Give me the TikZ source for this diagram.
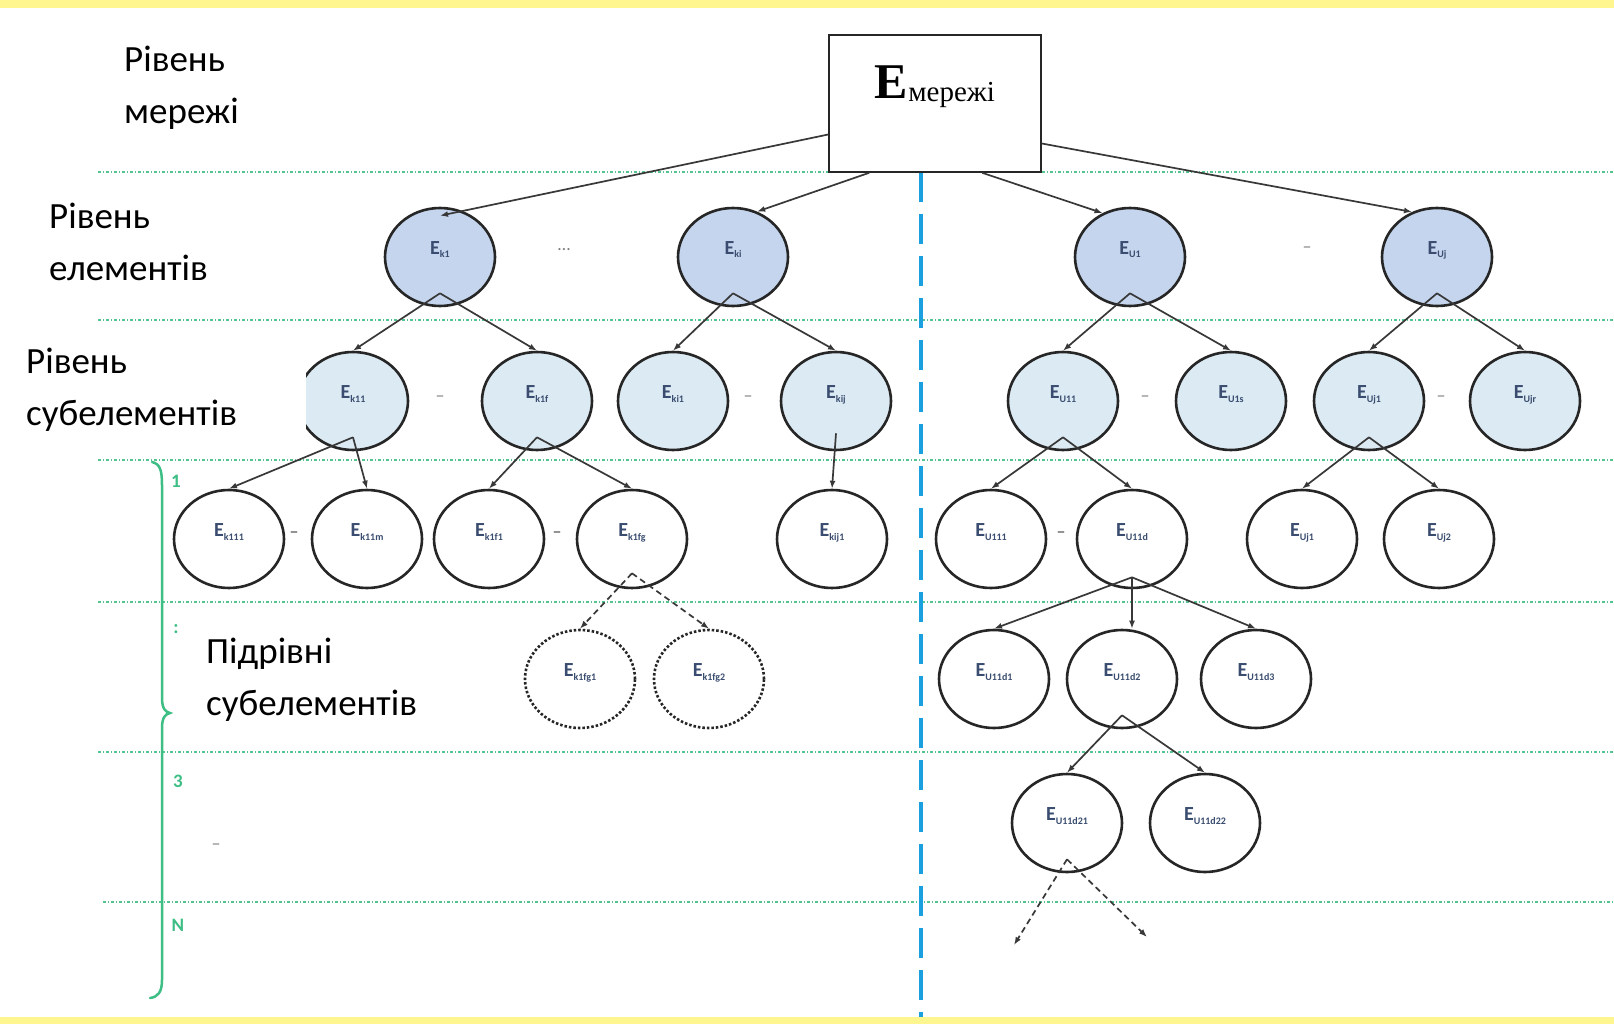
\documentclass[tikz,border=0pt]{standalone}
\usepackage{fontspec}
\setmainfont{Carlito}
\newfontfamily\tnr{Liberation Serif}
\usetikzlibrary{shapes.geometric,arrows.meta,calc}
\definecolor{elemblue}{HTML}{C5D5EE}
\definecolor{subblue}{HTML}{DCEAF3}
\definecolor{lvlgreen}{HTML}{55C48F}
\definecolor{bracegreen}{HTML}{3DBE85}
\definecolor{vblue}{HTML}{1AA0DE}
\definecolor{bandyellow}{HTML}{FFF68F}
\definecolor{labtext}{HTML}{3A4D70}
\newcommand\Elab[1]{{\fontsize{20}{20}\selectfont\bfseries E}\raisebox{-3.5pt}{\fontsize{10}{10}\selectfont\bfseries #1}}
\begin{document}
\begin{tikzpicture}[x=1pt,y=-1pt,
  elem/.style={ellipse, draw=black!85, line width=2.6pt, fill=elemblue,
    minimum width=110pt, minimum height=98pt, inner sep=0pt,
    text height=15pt, text depth=20pt, text=labtext},
  sub/.style={elem, fill=subblue},
  leaf/.style={elem, fill=white},
  dleaf/.style={leaf, dash pattern=on 2.5pt off 2pt},
  conn/.style={draw=black!78, line width=1.7pt, -{Latex[length=8pt,width=6pt]}},
  dconn/.style={conn, dash pattern=on 6pt off 4pt},
  lvl/.style={draw=lvlgreen, line width=2pt, dash pattern=on 3pt off 2pt on 1pt off 2pt},
  lab/.style={font=\fontsize{37}{52}\selectfont, anchor=west, inner sep=0pt, align=left},
  num/.style={font=\fontsize{19}{19}\selectfont\bfseries, text=bracegreen, inner sep=0pt},
  dotsym/.style={font=\fontsize{18}{18}\selectfont, text=black!50, inner sep=0pt}
]
\useasboundingbox (0,0) rectangle (1614,1024);
\fill[white] (0,0) rectangle (1614,1024);
\fill[bandyellow] (0,0) rectangle (1614,8);
\fill[bandyellow] (0,1017) rectangle (1614,1024);

% level separators
\foreach \yy in {172,320,460,602,752} {\draw[lvl] (98,\yy) -- (1614,\yy);}
\draw[lvl] (103,902) -- (1614,902);
% vertical divider
\draw[vblue, line width=4pt, dash pattern=on 30pt off 12pt] (921,172) -- (921,1017);

% top node
\node[draw=black!85, line width=1.6pt, fill=white, minimum width=212pt, minimum height=137pt,
  inner sep=0pt, text height=32pt, text depth=42pt] (top) at (935,103.5)
  {\tnr{\fontsize{50}{50}\selectfont\bfseries E}\raisebox{-3pt}{\fontsize{29}{29}\selectfont мережі}};

% level of elements
\node[elem] (ek1) at (440,257) {\Elab{k1}};
\node[elem] (eki) at (733,257) {\Elab{ki}};
\node[elem] (eu1) at (1130,257) {\Elab{U1}};
\node[elem] (euj) at (1437,257) {\Elab{Uj}};
\node[dotsym] (g1) at (564,250) {…};
\node[dotsym] (g2) at (1307,250) {–};

% level of sub-elements
\node[sub] (ek11) at (353,401) {\Elab{k11}};
\node[sub] (ek1f) at (537,401) {\Elab{k1f}};
\node[sub] (eki1) at (673,401) {\Elab{ki1}};
\node[sub] (ekij) at (836,401) {\Elab{kij}};
\node[sub] (eu11) at (1063,401) {\Elab{U11}};
\node[sub] (eu1s) at (1231,401) {\Elab{U1s}};
\node[sub] (euj1) at (1369,401) {\Elab{Uj1}};
\node[sub] (eujr) at (1525,401) {\Elab{Ujr}};
\node[dotsym] (g3) at (440,399) {–};
\node[dotsym] (g4) at (748,399) {–};
\node[dotsym] (g5) at (1145,399) {–};
\node[dotsym] (g6) at (1441,399) {–};

% sub-level 1
\node[leaf] (ek111) at (229,539) {\Elab{k111}};
\node[leaf] (ek11m) at (367,539) {\Elab{k11m}};
\node[leaf] (ek1f1) at (489,539) {\Elab{k1f1}};
\node[leaf] (ek1fg) at (632,539) {\Elab{k1fg}};
\node[leaf] (ekij1) at (832,539) {\Elab{kij1}};
\node[leaf] (eu111) at (991,539) {\Elab{U111}};
\node[leaf] (eu11d) at (1132,539) {\Elab{U11d}};
\node[leaf] (euj11) at (1302,539) {\Elab{Uj1}};
\node[leaf] (euj12) at (1439,539) {\Elab{Uj2}};
\node[dotsym, text=black!75] (g7) at (294,535) {–};
\node[dotsym, text=black!75] (g8) at (557,535) {–};
\node[dotsym, text=black!75] (g9) at (1061,535) {–};

% sub-level 2
\node[dleaf] (ek1fg1) at (580,679) {\Elab{k1fg1}};
\node[dleaf] (ek1fg2) at (709,679) {\Elab{k1fg2}};
\node[leaf] (eu11d1) at (994,679) {\Elab{U11d1}};
\node[leaf] (eu11d2) at (1122,679) {\Elab{U11d2}};
\node[leaf] (eu11d3) at (1256,679) {\Elab{U11d3}};

% sub-level 3
\node[leaf] (eu11d21) at (1067,823) {\Elab{U11d21}};
\node[leaf] (eu11d22) at (1205,823) {\Elab{U11d22}};
\coordinate (f1) at (1014,945);
\coordinate (f2) at (1147,937);

% connectors from the top node
\draw[conn] ([yshift=-31pt]top.west) -- ([yshift=-9pt]ek1.north);
\draw[conn] ([xshift=41pt]top.south west) -- (eki.62);
\draw[conn] ([xshift=154pt]top.south west) -- (eu1.122);
\draw[conn] ([yshift=-40pt]top.east) -- (euj.119);

% elements -> sub-elements
\draw[conn] ([yshift=14pt]ek1.south) -- (ek11.north);
\draw[conn] ([yshift=14pt]ek1.south) -- (ek1f.north);
\draw[conn] ([yshift=14pt]eki.south) -- (eki1.north);
\draw[conn] ([yshift=14pt]eki.south) -- (ekij.north);
\draw[conn] ([yshift=14pt]eu1.south) -- (eu11.north);
\draw[conn] ([yshift=14pt]eu1.south) -- (eu1s.north);
\draw[conn] ([yshift=14pt]euj.south) -- (euj1.north);
\draw[conn] ([yshift=14pt]euj.south) -- (eujr.north);

% sub-elements -> level 1
\draw[conn] ([yshift=14pt]ek11.south) -- (ek111.north);
\draw[conn] ([yshift=14pt]ek11.south) -- (ek11m.north);
\draw[conn] ([yshift=14pt]ek1f.south) -- (ek1f1.north);
\draw[conn] ([yshift=14pt]ek1f.south) -- (ek1fg.north);
\draw[conn] ([yshift=18pt]ekij.south) -- (ekij1.north);
\draw[conn] ([yshift=14pt]eu11.south) -- (eu111.north);
\draw[conn] ([yshift=14pt]eu11.south) -- (eu11d.north);
\draw[conn] ([yshift=14pt]euj1.south) -- (euj11.north);
\draw[conn] ([yshift=14pt]euj1.south) -- (euj12.north);

% level 1 -> level 2
\draw[dconn] ([yshift=16pt]ek1fg.south) -- (ek1fg1.north);
\draw[dconn] ([yshift=16pt]ek1fg.south) -- (ek1fg2.north);
\coordinate (ap) at ([yshift=12pt]eu11d.south);
\draw[conn] (ap) -- (eu11d1.north);
\draw[conn] (ap) -- (ap |- eu11d2.north);
\draw[conn] (ap) -- (eu11d3.north);

% level 2 -> level 3
\draw[conn] ([yshift=14pt]eu11d2.south) -- (eu11d21.north);
\draw[conn] ([yshift=14pt]eu11d2.south) -- (eu11d22.north);
\draw[dconn] ([yshift=14pt]eu11d21.south) -- (f1);
\draw[dconn] ([yshift=14pt]eu11d21.south) -- (f2);

% left labels
\node[lab] (lm) at (124,88) {Рівень\\мережі};
\node[lab] (le) at (49,242) {Рівень\\елементів};
\node[lab, fill=white, text width=280pt, minimum height=100pt] (ls) at (26,390) {Рівень\\субелементів};
\node[lab] (lp) at (206,680) {Підрівні\\субелементів};

% brace and sub-level numbers
\draw[bracegreen, line width=2.5pt, line cap=round]
  (152,462) .. controls (160,464) and (162,470) .. (162,485) -- (162,698)
  .. controls (162,708) and (165,712) .. (170,713)
  .. controls (165,714) and (162,718) .. (162,728) -- (162,980)
  .. controls (162,992) and (158,997) .. (150,998);
\node[num] (n1) at (176,481) {1};
\node[num] (n2) at (176,629) {:};
\node[num] (n3) at (178,781) {3};
\node[num] (nn) at (178,925) {N};
\node[dotsym] (g10) at (216,847) {–};
\end{tikzpicture}
\end{document}
